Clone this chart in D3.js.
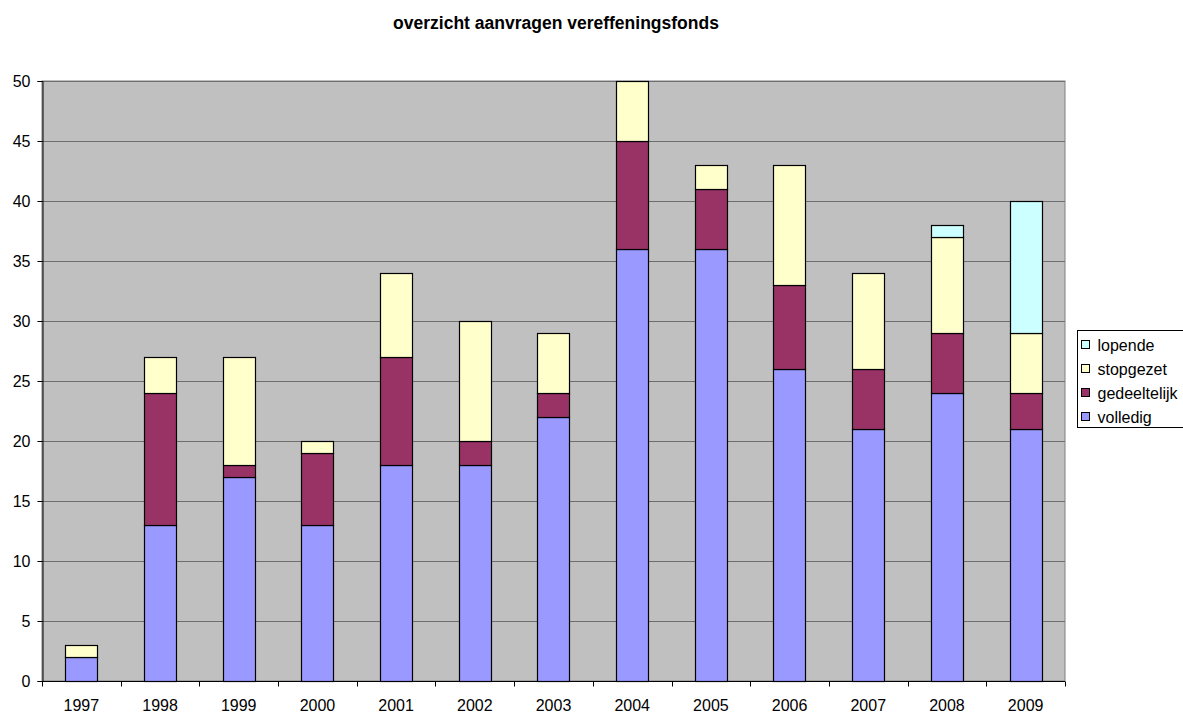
<!DOCTYPE html>
<html>
<head>
<meta charset="utf-8">
<script src="https://cdn.jsdelivr.net/npm/d3@7"></script>
<style>
  body { margin: 0; background: #fff; }
  text { font-family: "Liberation Sans", Arial, sans-serif; }
</style>
</head>
<body>
<div id="chart"></div>
<script>
// data
const years = ["1997","1998","1999","2000","2001","2002","2003","2004","2005","2006","2007","2008","2009"];
const volledig     = [2, 13, 17, 13, 18, 18, 22, 36, 36, 26, 21, 24, 21];
const gedeeltelijk = [0, 11, 1, 6, 9, 2, 2, 9, 5, 7, 5, 5, 3];
const stopgezet    = [1, 3, 9, 1, 7, 10, 5, 5, 2, 10, 8, 8, 5];
const lopende      = [0, 0, 0, 0, 0, 0, 0, 0, 0, 0, 0, 1, 11];
const yTicks = [0, 5, 10, 15, 20, 25, 30, 35, 40, 45, 50];

const seriesNames = ["volledig", "gedeeltelijk", "stopgezet", "lopende"];
const colors = {volledig: "#9999FF", gedeeltelijk: "#993366", stopgezet: "#FFFFCC", lopende: "#CCFFFF"};

const rows = years.map((y, i) => ({
  year: y, volledig: volledig[i], gedeeltelijk: gedeeltelijk[i],
  stopgezet: stopgezet[i], lopende: lopende[i]
}));

const W = 1183, H = 713;
const pLeft = 42, pRight = 1065, pTop = 81, pBottom = 681;

const svg = d3.select("#chart").append("svg")
  .attr("width", W).attr("height", H);

svg.append("text")
  .attr("x", 556).attr("y", 29)
  .attr("text-anchor", "middle")
  .style("font-size", "17.5px").style("font-weight", "bold")
  .text("overzicht aanvragen vereffeningsfonds");

const x = d3.scaleBand().domain(years).range([pLeft, pRight]).paddingInner(0.59).paddingOuter(0.295);
const xTick = d3.scaleBand().domain(years).range([pLeft, pRight]);
const y = d3.scaleLinear().domain([0, 50]).range([pBottom, pTop]);

// plot background
svg.append("rect")
  .attr("x", pLeft).attr("y", pTop)
  .attr("width", pRight - pLeft).attr("height", pBottom - pTop)
  .attr("fill", "#C0C0C0")
  .attr("stroke", "#808080").attr("stroke-width", 1);

// gridlines
svg.append("g").selectAll("line")
  .data(yTicks.filter(t => t > 0))
  .join("line")
  .attr("x1", pLeft).attr("x2", pRight)
  .attr("y1", d => Math.round(y(d)) + 0.5).attr("y2", d => Math.round(y(d)) + 0.5)
  .attr("stroke", "#6e6e6e").attr("stroke-width", 1);

// stacked bars
const stack = d3.stack().keys(seriesNames)(rows);
svg.append("g").selectAll("g")
  .data(stack)
  .join("g")
  .attr("fill", d => colors[d.key])
  .selectAll("rect")
  .data(d => d.filter(s => s[1] - s[0] > 0))
  .join("rect")
  .attr("x", d => Math.round(x(d.data.year)) + 0.5)
  .attr("y", d => Math.round(y(d[1])) + 0.5)
  .attr("width", Math.round(x.bandwidth()))
  .attr("height", d => Math.round(y(d[0])) - Math.round(y(d[1])))
  .attr("stroke", "#000").attr("stroke-width", 1.2);

// y axis
const yAxis = svg.append("g")
  .attr("transform", `translate(${pLeft + 0.5},0)`)
  .call(d3.axisLeft(y).tickValues(yTicks).tickSize(5).tickPadding(7));
yAxis.select(".domain").attr("stroke", "#000");
yAxis.selectAll("line").attr("stroke", "#000");
yAxis.selectAll("text").style("font-size", "16px").attr("fill", "#000")
  .style("font-family", "'Liberation Sans', Arial, sans-serif");

// x axis
const xAxis = svg.append("g")
  .attr("transform", `translate(0,${pBottom + 0.5})`);
xAxis.append("line")
  .attr("x1", pLeft).attr("x2", pRight).attr("stroke", "#000");
xAxis.selectAll("line.tk")
  .data(years.concat(["end"]))
  .join("line").attr("class", "tk")
  .attr("x1", (d, i) => Math.round(pLeft + i * xTick.step()) + 0.5)
  .attr("x2", (d, i) => Math.round(pLeft + i * xTick.step()) + 0.5)
  .attr("y1", 0).attr("y2", 5).attr("stroke", "#000");
xAxis.selectAll("text")
  .data(years)
  .join("text")
  .attr("x", d => xTick(d) + xTick.bandwidth() / 2)
  .attr("y", 29)
  .attr("text-anchor", "middle")
  .style("font-size", "16px")
  .text(d => d);

// legend
const lg = svg.append("g").attr("transform", "translate(1077.5,330.5)");
lg.append("rect").attr("width", 106).attr("height", 97)
  .attr("fill", "#fff").attr("stroke", "#000");
const legendOrder = ["lopende", "stopgezet", "gedeeltelijk", "volledig"];
const li = lg.selectAll("g.item").data(legendOrder).join("g")
  .attr("class", "item")
  .attr("transform", (d, i) => `translate(4,${14 + i * 24})`);
li.append("rect").attr("width", 8).attr("height", 8).attr("y", -4)
  .attr("fill", d => colors[d]).attr("stroke", "#000");
li.append("text").attr("x", 16).attr("y", 6)
  .style("font-size", "16px").text(d => d);
</script>
</body>
</html>
